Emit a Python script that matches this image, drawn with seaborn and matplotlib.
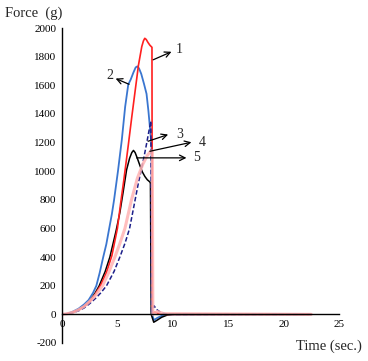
import numpy as np
import pandas as pd
import matplotlib
matplotlib.use("Agg")
import matplotlib.pyplot as plt
import seaborn as sns

## data (time in sec., force in g)
t_red = [0, 0.5, 1, 1.5, 2, 2.5, 3, 3.5, 4, 4.5, 5.0, 5.3, 5.6, 5.98, 6.3, 6.6, 6.9, 7.2, 7.35, 7.47,
         7.6, 7.75, 7.93, 8.12, 8.15, 8.4, 8.8, 9.5, 22.5]
f_red = [0, 5, 15, 30, 55, 90, 140, 205, 290, 410, 600, 780, 950, 1180, 1380, 1560, 1740, 1870, 1910, 1928,
         1920, 1900, 1880, 1865, 10, 15, 5, 0, 0]

t_blue = [0, 0.5, 1, 1.5, 2, 2.4, 2.8, 3.1, 3.4, 3.72, 4.0, 4.26, 4.5, 4.7, 5.05, 5.4, 5.7, 5.98, 6.2,
          6.45, 6.65, 6.8, 6.95, 7.15, 7.4, 7.63, 7.8, 7.93, 8.08, 8.12, 8.3, 8.6, 9.0, 9.5, 22.5]
f_blue = [0, 5, 20, 40, 70, 100, 150, 200, 290, 400, 490, 600, 700, 800, 1000, 1220, 1450, 1605, 1640,
          1690, 1725, 1732, 1718, 1680, 1610, 1540, 1420, 1310, 1180, 0, -40, -25, -10, 0, 0]

t_black = [0, 0.5, 1, 1.5, 2, 2.5, 3, 3.36, 3.9, 4.32, 4.87, 5.22, 5.53, 5.83, 6.1, 6.3, 6.45, 6.6, 6.8,
           7.03, 7.25, 7.48, 7.7, 7.93, 7.98, 8.05, 8.28, 8.6, 9.0, 9.5, 10, 22.3]
f_black = [0, 5, 15, 32, 55, 90, 150, 200, 300, 400, 580, 710, 860, 1010, 1090, 1130, 1145, 1130, 1090,
           1040, 995, 963, 940, 925, 915, 0, -55, -40, -20, -5, 0, 0]

t_navy = [0, 0.5, 1, 1.5, 2, 2.5, 3, 3.5, 4.02, 4.7, 5.22, 5.7, 6.1, 6.5, 6.9, 7.3, 7.63, 7.87, 8.02,
          8.08, 8.3, 8.6, 9.0, 9.6, 22.5]
f_navy = [0, 4, 12, 25, 45, 75, 110, 150, 200, 300, 400, 500, 600, 760, 920, 1060, 1190, 1290, 1350,
          0, 60, 30, 10, 0, 0]

t_pink = [0, 0.5, 1, 1.5, 2, 2.5, 3, 3.66, 4.2, 4.77, 5.2, 5.68, 6.27, 6.8, 7.3, 7.7, 8.0, 8.15, 8.2,
          8.6, 9.2, 22.5]
f_pink = [0, 5, 15, 32, 55, 90, 130, 200, 290, 400, 490, 600, 800, 950, 1050, 1110, 1140, 1140, 0,
          20, 5, 0]

## arrows: label, tail, head, label position
labels = ["1", "2", "3", "4", "5"]
tails = [(8.23, 1778), (6.05, 1607), (7.77, 1209), (7.93, 1139), (6.73, 1093)]
heads = [(9.88, 1834), (4.84, 1647), (9.58, 1256), (11.68, 1202), (11.23, 1093)]
label_pos = [(10.3, 1853), (4.0, 1670), (10.3, 1256), (12.3, 1200), (11.8, 1093)]

sns.set_style("white")
plt.rcParams['font.family'] = ['Liberation Serif', 'DejaVu Serif']
plt.rcParams['axes.unicode_minus'] = False

fig = plt.figure(figsize=(3.68, 3.61), dpi=100)
ax = fig.add_axes([62 / 368, 18 / 361, 277 / 368, 315 / 361])

sns.lineplot(x=t_blue, y=f_blue, color="#3a76d0", lw=1.3, ax=ax, sort=False)
sns.lineplot(x=t_black, y=f_black, color="black", lw=1.1, ax=ax, sort=False)
sns.lineplot(x=t_red, y=f_red, color="#ff2020", lw=1.2, ax=ax, sort=False)
sns.lineplot(x=t_navy, y=f_navy, color="#1c1f8a", lw=1.1, ax=ax, sort=False,
             linestyle=(0, (3, 1.5)))
sns.lineplot(x=t_pink, y=f_pink, color="#ffb3b3", lw=2.2, ax=ax, sort=False, alpha=0.85)

for lab, tl, hd, lp in zip(labels, tails, heads, label_pos):
    ax.annotate("", xy=hd, xytext=tl,
                arrowprops=dict(arrowstyle="->", lw=0.9, color="black",
                                shrinkA=0, shrinkB=0))
    ax.text(lp[0], lp[1], lab, fontsize=10, ha="left", va="center")

ax.set_xlim(0, 25)
ax.set_ylim(-200, 2000)
ax.set_xticks(range(0, 26, 5))
ax.set_yticks(range(-200, 2001, 200))
ax.spines['bottom'].set_position(('data', 0))
ax.spines['top'].set_visible(False)
ax.spines['right'].set_visible(False)
for s in ['left', 'bottom']:
    ax.spines[s].set_linewidth(1.0)
    ax.spines[s].set_color("black")
ax.tick_params(axis='x', direction='in', length=4, width=1, labelsize=8, pad=4, colors="black")
ax.tick_params(axis='y', direction='out', length=3, width=1, labelsize=8, pad=1, colors="black")
ax.set_xlabel("")
ax.set_ylabel("")

fig.text(5 / 368, 1 - 13 / 361, "Force  (g)", fontsize=10.5, ha="left", va="center")
fig.text(362 / 368, 1 - 346 / 361, "Time (sec.)", fontsize=10.5, ha="right", va="center")

fig.savefig("out.png", dpi=100)
